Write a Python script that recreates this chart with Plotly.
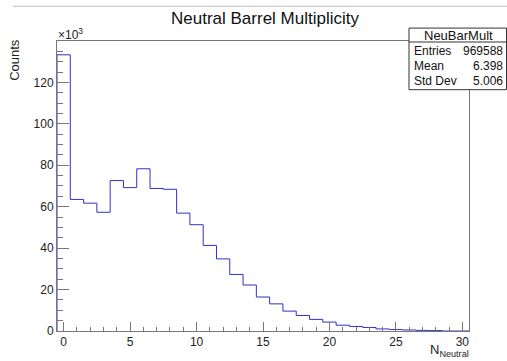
import plotly.graph_objects as go

# Histogram contents: neutral barrel multiplicity, one bin per integer value
bin_centers = list(range(0, 31))
counts = [133300, 63500, 61700, 57300, 72600, 69200, 78300, 68800, 68400, 56900,
          51300, 41300, 34800, 27300, 22200, 16400, 13100, 9600, 7500, 5600,
          4300, 2800, 2200, 1700, 1000, 700, 500, 300, 200, 0, 0]

y_tick_vals = [0, 20000, 40000, 60000, 80000, 100000, 120000]
y_tick_text = ["0", "20", "40", "60", "80", "100", "120"]
x_tick_vals = [0, 5, 10, 15, 20, 25, 30]

hist_name = "NeuBarMult"
stat_labels = ["Entries", "Mean", "Std Dev"]
stat_values = ["969588", "6.398", "5.006"]

FONT = "Liberation Sans, Arial, Helvetica, sans-serif"
W, H = 507, 361
L, R, T, B = 57, 469, 41, 333  # frame edges in pixels


def px(x):
    return (x - L) / (R - L)


def py(y):
    return (B - y) / (B - T)


# step outline built from bin edges
edges = [c - 0.5 for c in bin_centers] + [bin_centers[-1] + 0.5]
xs = [edges[0]] + edges
ys = [0] + counts + [counts[-1]]

fig = go.Figure()
fig.add_trace(go.Scatter(
    x=xs, y=ys, mode="lines", line=dict(shape="hv", color="#3030c8", width=1),
    hoverinfo="skip", showlegend=False,
))

ymax = 1.05 * max(counts)

fig.update_layout(
    width=W, height=H,
    margin=dict(l=L, r=W - R, t=T, b=H - B),
    paper_bgcolor="white", plot_bgcolor="white",
    font=dict(family=FONT, color="#222"),
    xaxis=dict(
        range=[edges[0], edges[-1]], tickvals=x_tick_vals,
        ticks="inside", ticklen=9, tickcolor="#777", tickwidth=1,
        showgrid=False, zeroline=False,
        showline=True, linecolor="#777", linewidth=1, mirror=True,
        tickfont=dict(size=12, family=FONT, color="#222"),
        minor=dict(dtick=1, ticks="inside", ticklen=4, tickcolor="#777", showgrid=False),
    ),
    yaxis=dict(
        range=[0, ymax], tickvals=y_tick_vals, ticktext=y_tick_text,
        ticks="inside", ticklen=12, tickcolor="#777", tickwidth=1,
        showgrid=False, zeroline=False,
        showline=True, linecolor="#777", linewidth=1, mirror=True,
        tickfont=dict(size=12, family=FONT, color="#222"),
        minor=dict(dtick=5000, ticks="inside", ticklen=6, tickcolor="#777", showgrid=False),
    ),
)

shapes = [
    # thin rule across the top of the canvas
    dict(type="line", xref="paper", yref="paper", x0=px(13), x1=px(W), y0=py(6), y1=py(6),
         line=dict(color="#bbb", width=1)),
    # statistics box
    dict(type="rect", xref="paper", yref="paper", x0=px(409), x1=px(W - 0.5), y0=py(28), y1=py(90),
         fillcolor="white", line=dict(color="#333", width=1), layer="above"),
    dict(type="line", xref="paper", yref="paper", x0=px(409), x1=px(W), y0=py(42), y1=py(42),
         line=dict(color="#333", width=1), layer="above"),
]

annotations = [
    dict(text="Neutral Barrel Multiplicity", x=px(265), y=py(18), xref="paper", yref="paper",
         showarrow=False, xanchor="center", yanchor="middle",
         font=dict(size=17, family=FONT, color="#111")),
    dict(text="×10<sup>3</sup>", x=px(56), y=py(34), xref="paper", yref="paper",
         showarrow=False, xanchor="left", yanchor="middle",
         font=dict(size=12, family=FONT, color="#222")),
    dict(text="Counts", x=px(15), y=py(60), xref="paper", yref="paper", textangle=-90,
         showarrow=False, xanchor="center", yanchor="middle",
         font=dict(size=13, family=FONT, color="#222")),
    dict(text="N<sub>Neutral</sub>", x=px(471), y=py(353), xref="paper", yref="paper",
         showarrow=False, xanchor="right", yanchor="middle",
         font=dict(size=13, family=FONT, color="#222")),
    dict(text=hist_name, x=px(458), y=py(35), xref="paper", yref="paper",
         showarrow=False, xanchor="center", yanchor="middle",
         font=dict(size=13, family=FONT, color="#111")),
]

row_y = [51, 66, 81]
for lab, val, yy in zip(stat_labels, stat_values, row_y):
    annotations.append(dict(text=lab, x=px(412), y=py(yy), xref="paper", yref="paper",
                            showarrow=False, xanchor="left", yanchor="middle",
                            font=dict(size=12, family=FONT, color="#111")))
    annotations.append(dict(text=val, x=px(505), y=py(yy), xref="paper", yref="paper",
                            showarrow=False, xanchor="right", yanchor="middle",
                            font=dict(size=12, family=FONT, color="#111")))

fig.update_layout(shapes=shapes, annotations=annotations)

fig.write_html("out.html")
